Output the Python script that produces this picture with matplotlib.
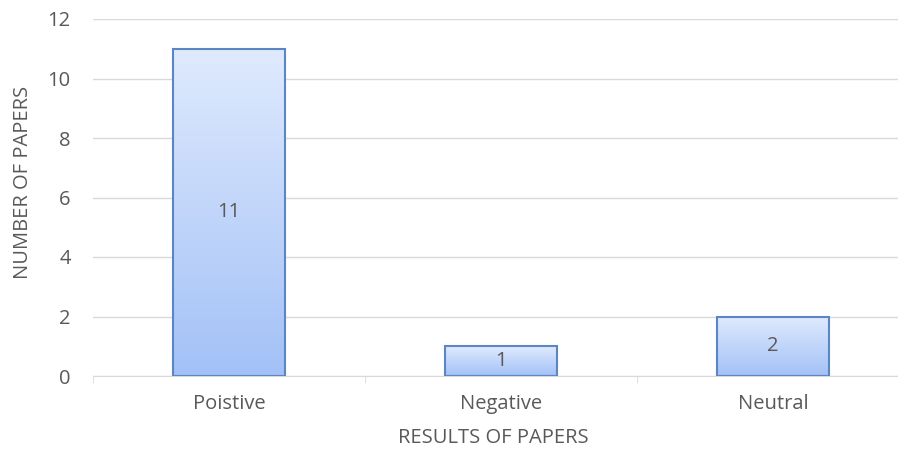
import matplotlib
matplotlib.use("Agg")
import matplotlib.pyplot as plt
import numpy as np
from matplotlib.colors import LinearSegmentedColormap

# resultados de los articulos revisados
categorias = ["Poistive", "Negative", "Neutral"]
num_papers = [11, 1, 2]

gris_texto = "#595959"
plt.rcParams["font.family"] = ["Open Sans", "DejaVu Sans"]
tam = 14.5

fig = plt.figure(figsize=(8.98, 4.53), dpi=100)
ax = fig.add_axes([93/898, 77/453, 816/898, 357/453])

x = np.arange(len(categorias))
barras = ax.bar(x, num_papers, width=0.41, facecolor="none",
                edgecolor="#5a86c4", linewidth=1.5, zorder=3)

# degradado vertical dentro de cada barra (claro arriba, azul abajo)
degradado = LinearSegmentedColormap.from_list("azul", ["#a3c1f7", "#dfeafd"])
grad = np.linspace(0, 1, 256).reshape(-1, 1)
for b in barras:
    x0, y0 = b.get_x(), b.get_y()
    w, h = b.get_width(), b.get_height()
    im = ax.imshow(grad, cmap=degradado, origin="lower", aspect="auto",
                   extent=[x0, x0 + w, y0, y0 + h], zorder=2)
    im.set_clip_path(b)

# etiquetas con el valor en el centro de cada barra
for xi, v in zip(x, num_papers):
    ax.text(xi, v / 2, str(v), ha="center", va="center",
            fontsize=tam, color=gris_texto, zorder=4)

ax.set_xlim(-0.5, len(categorias) - 0.5)
ax.set_ylim(0, 12)
ax.set_yticks(range(0, 13, 2))
ax.set_xticks(x)
ax.set_xticklabels(categorias)
ax.set_xticks(np.arange(-0.5, len(categorias), 1), minor=True)

ax.grid(axis="y", color="#d9d9d9", linewidth=1, zorder=0)
for lado in ["top", "right", "left"]:
    ax.spines[lado].set_visible(False)
ax.spines["bottom"].set_color("#d9d9d9")
ax.spines["bottom"].set_zorder(1)

ax.tick_params(axis="x", which="major", length=0, pad=13,
               labelsize=tam, labelcolor=gris_texto)
ax.tick_params(axis="x", which="minor", length=5, color="#d9d9d9")
ax.tick_params(axis="y", length=0, pad=16, labelsize=tam, labelcolor=gris_texto)

ax.set_ylabel("NUMBER OF PAPERS", fontsize=tam, color=gris_texto)
ax.yaxis.set_label_coords(-(93 - 33) / 816, (376 - 182) / 357)
ax.set_xlabel("RESULTS OF PAPERS", fontsize=tam, color=gris_texto)
ax.xaxis.set_label_coords(0.49, -(428 - 376) / 357)

fig.savefig("out.png", dpi=100)
